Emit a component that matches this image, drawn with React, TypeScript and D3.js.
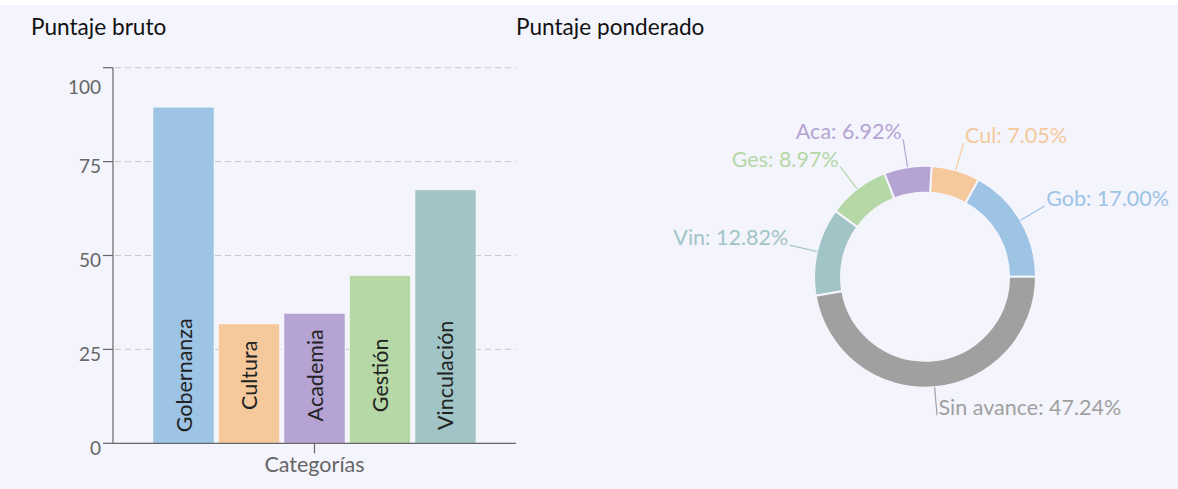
import React from "react";
import * as d3 from "d3";

const barCategories = ["Gobernanza", "Cultura", "Academia", "Gestión", "Vinculación"];
const barValues = [89.5, 31.8, 34.6, 44.7, 67.5];
const barColors = ["#9dc3e5", "#f5c99b", "#b4a3d3", "#b5d8a6", "#a1c4c6"];
const groupName = "Categorías";
const yTicks = [0, 25, 50, 75, 100];

const pieLabels = ["Gob", "Cul", "Aca", "Ges", "Vin", "Sin avance"];
const pieValues = [17.0, 7.05, 6.92, 8.97, 12.82, 47.24];
const pieColors = ["#9dc3e5", "#f5c99b", "#b4a3d3", "#b5d8a6", "#a1c4c6", "#a0a0a0"];

const W = 1178;
const H = 489;
const FONT = "Lato, 'Open Sans', sans-serif";
const BG = "#f4f4fd";

export default function App() {
  // Bar chart
  const x0 = 113, x1 = 516, yTop = 67.7, yBot = 443.3;
  const y = d3.scaleLinear().domain([0, 100]).range([yBot, yTop]);
  const outer = d3.scaleBand<string>().domain([groupName]).range([x0, x1]).paddingInner(0.11).paddingOuter(0.11);
  const inner = d3
    .scaleBand<string>()
    .domain(barCategories)
    .range([outer(groupName)!, outer(groupName)! + outer.bandwidth()])
    .paddingInner(0.066)
    .paddingOuter(0);
  const groupCenter = outer(groupName)! + outer.bandwidth() / 2;
  const labelY = y(18.1);

  // Donut
  const cx = 925, cy = 276.7, rIn = 84, rOut = 111, rLab = 139;
  const pie = d3
    .pie<number>()
    .sort(null)
    .value((d) => d)
    .startAngle(Math.PI / 2)
    .endAngle(Math.PI / 2 - 2 * Math.PI);
  const arcs = pie(pieValues);
  const arc = d3.arc<d3.PieArcDatum<number>>().innerRadius(rIn).outerRadius(rOut);

  return (
    <div style={{ position: "absolute", left: 0, top: 0 }}>
      <svg width={W} height={H} style={{ display: "block" }} fontFamily={FONT}>
        <rect x={0} y={5} width={W} height={H - 5} fill={BG} />
        <text x={31} y={35} fontSize={22.6} fill="#111">Puntaje bruto</text>
        <text x={516} y={35} fontSize={22.6} fill="#111">Puntaje ponderado</text>

        {/* grid */}
        {yTicks.filter((t) => t > 0).map((t) => (
          <line key={"g" + t} x1={x0 + 2} x2={x1} y1={y(t)} y2={y(t)} stroke="#c8c8cc" strokeDasharray="6,4" strokeWidth={1} />
        ))}

        {/* bars */}
        {barCategories.map((c, i) => (
          <g key={c}>
            <rect
              x={inner(c)!}
              y={y(barValues[i])}
              width={inner.bandwidth()}
              height={yBot - y(barValues[i])}
              fill={barColors[i]}
              stroke="#ffffff"
              strokeOpacity={0.6}
              strokeWidth={1}
            />
            <text
              transform={`translate(${inner(c)! + inner.bandwidth() / 2},${labelY}) rotate(-90)`}
              textAnchor="middle"
              dominantBaseline="central"
              fontSize={21.5}
              fill="#222"
            >
              {c}
            </text>
          </g>
        ))}

        {/* y axis */}
        <line x1={x0} x2={x0} y1={yTop} y2={yBot} stroke="#666" strokeWidth={1.2} />
        {yTicks.map((t) => (
          <g key={"t" + t}>
            <line x1={x0 - 10} x2={x0} y1={y(t)} y2={y(t)} stroke="#666" strokeWidth={1.2} />
            <text
              x={x0 - 12}
              y={y(t)}
              dy={t === 100 ? 19 : 4}
              textAnchor="end"
              dominantBaseline="central"
              fontSize={19}
              fill="#666"
            >
              {t}
            </text>
          </g>
        ))}
        {/* x axis */}
        <line x1={x0} x2={x1} y1={yBot} y2={yBot} stroke="#666" strokeWidth={1.2} />
        <line x1={groupCenter} x2={groupCenter} y1={yBot} y2={yBot + 10} stroke="#666" strokeWidth={1.2} />
        <text x={groupCenter} y={471.5} textAnchor="middle" fontSize={21.5} fill="#666">
          {groupName}
        </text>

        {/* donut */}
        <g transform={`translate(${cx},${cy})`}>
          {arcs.map((a, i) => (
            <path key={"a" + i} d={arc(a)!} fill={pieColors[i]} stroke={BG} strokeWidth={2} />
          ))}
          {arcs.map((a, i) => {
            const mid = (a.startAngle + a.endAngle) / 2;
            const sx = Math.sin(mid), sy = -Math.cos(mid);
            const ex = sx * rLab, ey = sy * rLab;
            const right = sx >= 0;
            return (
              <g key={"l" + i}>
                <line x1={sx * rOut} y1={sy * rOut} x2={ex} y2={ey} stroke={pieColors[i]} strokeWidth={1.2} />
                <text
                  x={ex + (right ? 1.5 : -1.5)}
                  y={ey}
                  textAnchor={right ? "start" : "end"}
                  fontSize={21.5}
                  fill={pieColors[i]}
                >
                  {`${pieLabels[i]}: ${pieValues[i].toFixed(2)}%`}
                </text>
              </g>
            );
          })}
        </g>
      </svg>
    </div>
  );
}
